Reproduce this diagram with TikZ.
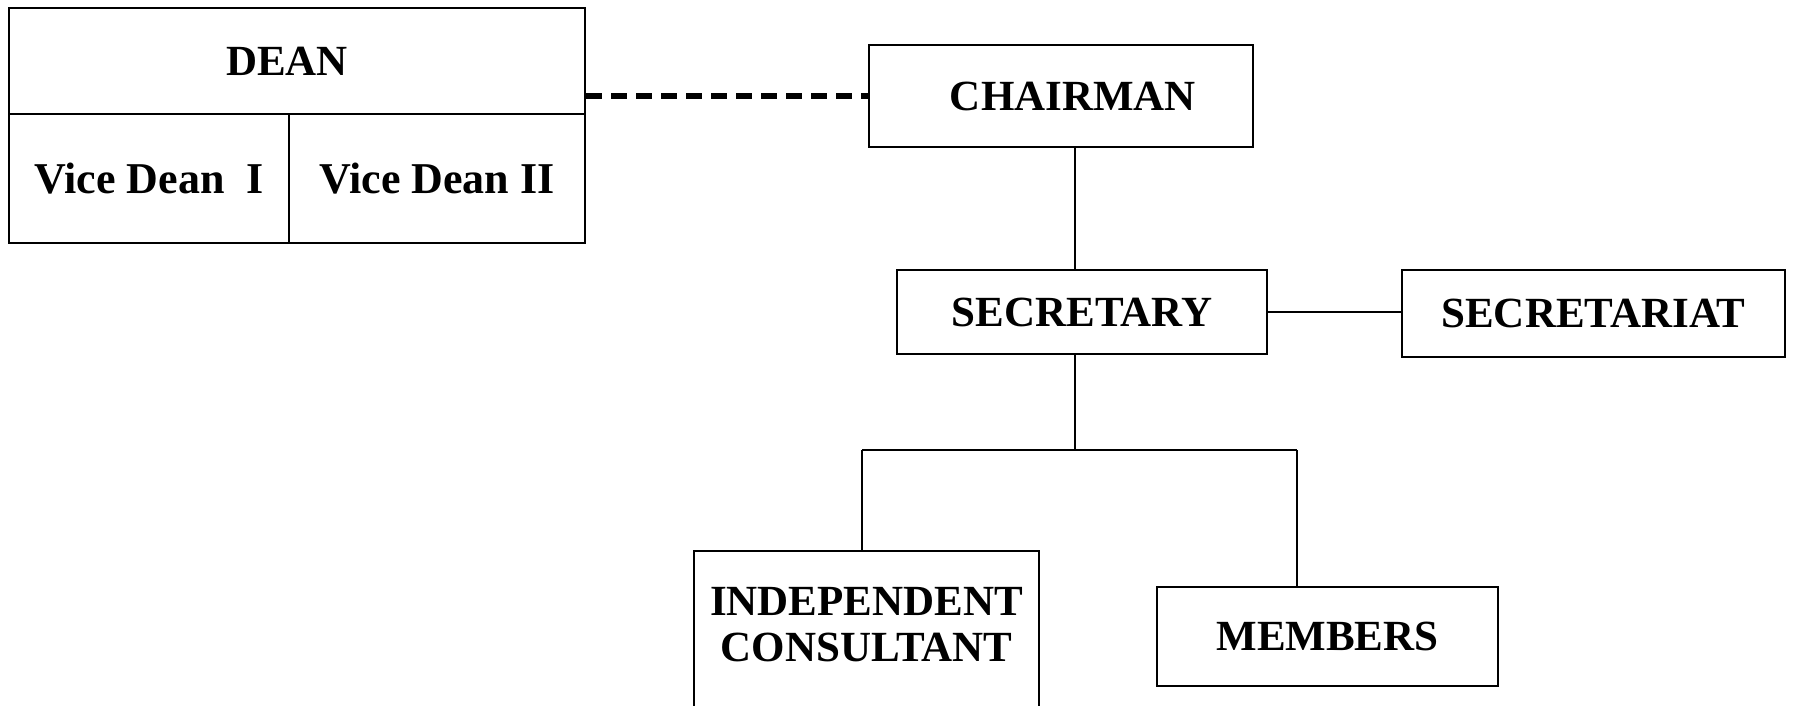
\documentclass[tikz,border=0pt]{standalone}
\usepackage{fontspec}
\setmainfont{Liberation Serif}
\begin{document}
\begin{tikzpicture}[x=1pt,y=-1pt,
  box/.style={draw=black, line width=2pt, inner sep=0pt, align=center,
    font=\fontsize{43}{46}\selectfont\bfseries},
  conn/.style={draw=black, line width=2pt},
  dashline/.style={draw=black, line width=6pt, dash pattern=on 16pt off 9pt}]
\clip (0,0) rectangle (1793,705);
\fill[white] (0,0) rectangle (1793,705);
% Dean block
\node[box, minimum width=576pt, minimum height=106pt] (dean) at (297,61) {DEAN\hspace*{20pt}};
\node[box, minimum width=280pt, minimum height=129pt, font=\fontsize{44}{46}\selectfont\bfseries] (vd1) at (149,178.5) {Vice Dean\hspace{0.25em} I};
\node[box, minimum width=296pt, minimum height=129pt, font=\fontsize{44}{46}\selectfont\bfseries] (vd2) at (437,178.5) {Vice Dean II};
% Chairman etc.
\node[box, minimum width=384pt, minimum height=102pt] (chair) at (1061,96) {\hspace*{24pt}CHAIRMAN};
\node[box, minimum width=370pt, minimum height=84pt] (sec) at (1082,312) {SECRETARY};
\node[box, minimum width=383pt, minimum height=87pt] (secr) at (1593.5,313.5) {SECRETARIAT};
\node[box, draw=none, minimum width=343pt, minimum height=146pt] (ind) at (866.5,625) {INDEPENDENT\\CONSULTANT};
\draw[conn] ([yshift=-220pt]ind.north west) -- (ind.north west) -- (ind.north east) -- ([yshift=-220pt]ind.north east);
\node[box, minimum width=341pt, minimum height=99pt] (mem) at (1327.5,636.5) {MEMBERS};
% connectors
\coordinate (spine) at (1075,0);
\coordinate (bus) at (1075,450);
\coordinate (ldrop) at (862,450);
\coordinate (mdrop) at (1297,450);
\draw[dashline] (chair.west -| dean.east) -- (chair.west);
\draw[conn] (chair.south -| spine) -- (sec.north -| spine);
\draw[conn] (sec.east) -- (sec.east -| secr.west);
\draw[conn] (sec.south -| spine) -- (bus);
\draw[conn] (ldrop) -- (mdrop);
\draw[conn] (ldrop) -- (ldrop |- ind.north);
\draw[conn] (mdrop) -- (mdrop |- mem.north);
\end{tikzpicture}
\end{document}
